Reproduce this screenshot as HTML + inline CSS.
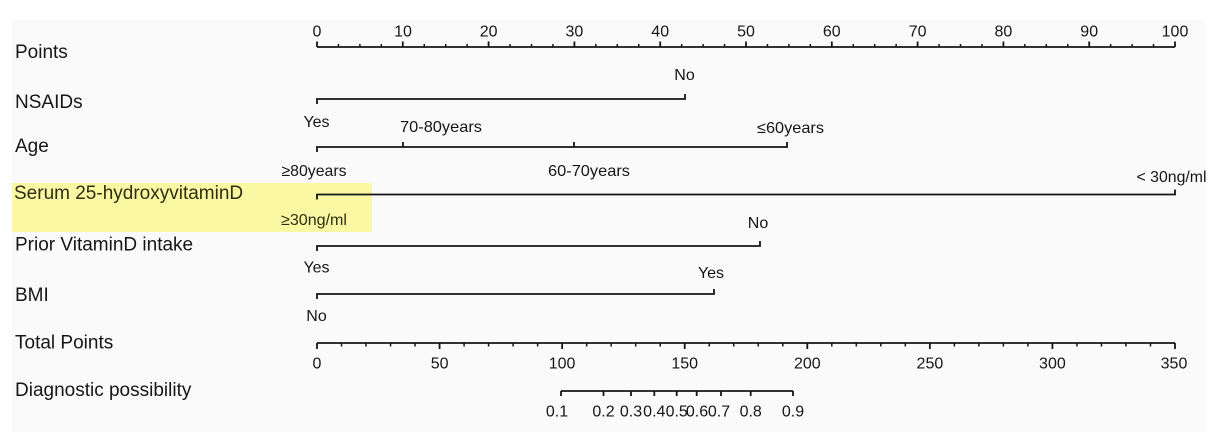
<!DOCTYPE html>
<html>
<head>
<meta charset="utf-8">
<style>
html,body{margin:0;padding:0;background:#fff;}
svg{display:block;}
text{font-family:"Liberation Sans",Arial,sans-serif;fill:#161616;}
.lab{font-size:19px;}
.num{font-size:16px;}
.cat{font-size:16px;}
</style>
</head>
<body>
<svg width="1231" height="438" viewBox="0 0 1231 438" xmlns="http://www.w3.org/2000/svg">
<rect x="0" y="0" width="1231" height="438" fill="#ffffff"/>
<rect x="12" y="20" width="1193" height="412" fill="#fafafa"/>
<!-- highlight -->
<rect x="12" y="183" width="360" height="49" fill="#fbf8a4"/>

<!-- left labels -->
<text class="lab" x="15" y="58">Points</text>
<text class="lab" x="15" y="108">NSAIDs</text>
<text class="lab" x="15" y="152">Age</text>
<text class="lab" x="14" y="199" style="fill:#2e2e10">Serum 25-hydroxyvitaminD</text>
<text class="lab" x="15" y="250.5">Prior VitaminD intake</text>
<text class="lab" x="15" y="301">BMI</text>
<text class="lab" x="15" y="348.5">Total Points</text>
<text class="lab" x="15" y="396">Diagnostic possibility</text>

<g stroke="#151515" fill="none" stroke-width="1.8">
<!-- Points axis -->
<path d="M317 47H1175"/>
<path d="M317 41.5V47M402.8 41.5V47M488.6 41.5V47M574.4 41.5V47M660.2 41.5V47M746 41.5V47M831.8 41.5V47M917.6 41.5V47M1003.4 41.5V47M1089.2 41.5V47M1175 41.5V47"/>
<path stroke-width="1.5" d="M338.45 44V47M359.9 44V47M381.35 44V47M424.25 44V47M445.7 44V47M467.15 44V47M510.05 44V47M531.5 44V47M552.95 44V47M595.85 44V47M617.3 44V47M638.75 44V47M681.65 44V47M703.1 44V47M724.55 44V47M767.45 44V47M788.9 44V47M810.35 44V47M853.25 44V47M874.7 44V47M896.15 44V47M939.05 44V47M960.5 44V47M981.95 44V47M1024.85 44V47M1046.3 44V47M1067.75 44V47M1110.65 44V47M1132.1 44V47M1153.55 44V47"/>

<!-- NSAIDs -->
<path d="M317 104V99H685V94"/>
<!-- Age -->
<path d="M317 152V147H787V142"/>
<path d="M403 142V147M574 142V147"/>
<!-- Serum -->
<path d="M317 199.5V194.5H1175V189.5"/>
<!-- Prior VitaminD -->
<path d="M317 251V246H760V241"/>
<!-- BMI -->
<path d="M317 299V294H714V289"/>

<!-- Total Points -->
<path d="M317 343H1175"/>
<path d="M317 343V349M439.57 343V349M562.14 343V349M684.71 343V349M807.29 343V349M929.86 343V349M1052.43 343V349M1175 343V349"/>
<path stroke-width="1.5" d="M341.51 343V346.5M366.03 343V346.5M390.54 343V346.5M415.06 343V346.5M464.09 343V346.5M488.6 343V346.5M513.11 343V346.5M537.63 343V346.5M586.66 343V346.5M611.17 343V346.5M635.69 343V346.5M660.2 343V346.5M709.23 343V346.5M733.74 343V346.5M758.26 343V346.5M782.77 343V346.5M831.8 343V346.5M856.31 343V346.5M880.83 343V346.5M905.34 343V346.5M954.37 343V346.5M978.89 343V346.5M1003.4 343V346.5M1027.91 343V346.5M1076.94 343V346.5M1101.46 343V346.5M1125.97 343V346.5M1150.49 343V346.5"/>

<!-- Diagnostic possibility -->
<path d="M561 391H793"/>
<path d="M561 391V396M603.5 391V396M631 391V396M654.3 391V396M676.7 391V396M696.7 391V396M721 391V396M750.7 391V396M793 391V396"/>
</g>

<!-- Points numbers -->
<g class="num" text-anchor="middle">
<text x="317" y="36.5">0</text>
<text x="403" y="36.5">10</text>
<text x="488.6" y="36.5">20</text>
<text x="574.4" y="36.5">30</text>
<text x="660.2" y="36.5">40</text>
<text x="746" y="36.5">50</text>
<text x="831.8" y="36.5">60</text>
<text x="917.6" y="36.5">70</text>
<text x="1003.4" y="36.5">80</text>
<text x="1089.2" y="36.5">90</text>
<text x="1175" y="36.5">100</text>
</g>

<!-- category labels -->
<g class="cat">
<text x="684.5" y="80" text-anchor="middle">No</text>
<text x="316.5" y="127" text-anchor="middle">Yes</text>
<text x="400" y="132" textLength="82" lengthAdjust="spacingAndGlyphs">70-80years</text>
<text x="757" y="133" textLength="67" lengthAdjust="spacingAndGlyphs">≤60years</text>
<text x="281.5" y="176" textLength="65" lengthAdjust="spacingAndGlyphs">≥80years</text>
<text x="548" y="176" textLength="82" lengthAdjust="spacingAndGlyphs">60-70years</text>
<text x="1136.5" y="182" textLength="70" lengthAdjust="spacingAndGlyphs">&lt; 30ng/ml</text>
<text x="281" y="225" textLength="66" lengthAdjust="spacingAndGlyphs" style="fill:#2e2e10">≥30ng/ml</text>
<text x="758" y="228" text-anchor="middle">No</text>
<text x="316.5" y="272.5" text-anchor="middle">Yes</text>
<text x="711" y="278" text-anchor="middle">Yes</text>
<text x="316.5" y="321" text-anchor="middle">No</text>
</g>

<!-- Total Points numbers -->
<g class="num" text-anchor="middle">
<text x="317" y="368.5">0</text>
<text x="439.6" y="368.5">50</text>
<text x="562.1" y="368.5">100</text>
<text x="684.7" y="368.5">150</text>
<text x="807.3" y="368.5">200</text>
<text x="929.9" y="368.5">250</text>
<text x="1052.4" y="368.5">300</text>
<text x="1174" y="368.5">350</text>
</g>

<!-- Diagnostic numbers -->
<g class="num" text-anchor="middle">
<text x="557" y="416.5">0.1</text>
<text x="603.5" y="416.5">0.2</text>
<text x="631" y="416.5">0.3</text>
<text x="654.3" y="416.5">0.4</text>
<text x="676.7" y="416.5">0.5</text>
<text x="697" y="416.5">0.6</text>
<text x="719" y="416.5">0.7</text>
<text x="750.7" y="416.5">0.8</text>
<text x="793" y="416.5">0.9</text>
</g>
</svg>
</body>
</html>
